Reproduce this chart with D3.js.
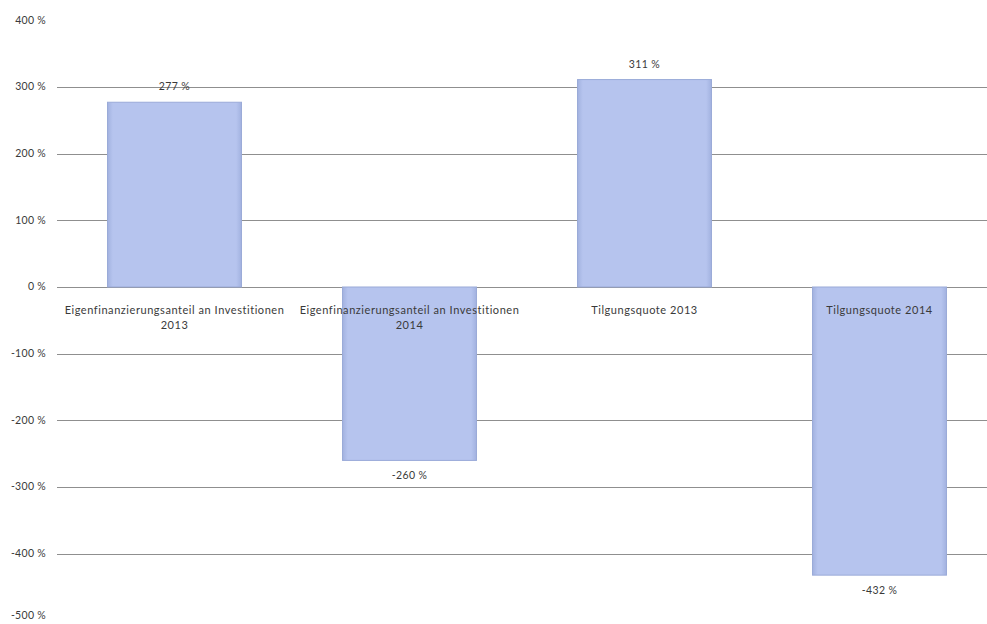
<!DOCTYPE html>
<html>
<head>
<meta charset="utf-8">
<script src="https://cdn.jsdelivr.net/npm/d3@7/dist/d3.min.js"></script>
<style>
  html, body { margin: 0; padding: 0; background: #fff; }
  svg { display: block; }
  text { font-family: Lato, "Open Sans", sans-serif; fill: #3a3a3a; }
</style>
</head>
<body>
<svg id="chart" width="987" height="624"></svg>
<script>
// Kennzahlen (in Prozent)
const categories = [
  ["Eigenfinanzierungsanteil an Investitionen", "2013"],
  ["Eigenfinanzierungsanteil an Investitionen", "2014"],
  ["Tilgungsquote 2013"],
  ["Tilgungsquote 2014"]
];
const values = [277, -260, 311, -432];
const tickValues = [400, 300, 200, 100, 0, -100, -200, -300, -400, -500];
const gridValues = [300, 200, 100, 0, -100, -200, -300, -400];

const svg = d3.select("#chart");
const keys = categories.map((c, i) => i);

const x = d3.scaleBand()
  .domain(keys)
  .range([57, 997])
  .paddingInner(0.43)
  .paddingOuter(0.215);

const y = d3.scaleLinear()
  .domain([-500, 400])
  .range([620.5, 20.2]);

const fmt = v => v + " %";

// Bar gradient: soft bevelled lavender blue
const defs = svg.append("defs");
const grad = defs.append("linearGradient").attr("id", "barFill")
  .attr("x1", "0%").attr("x2", "100%").attr("y1", "0%").attr("y2", "0%");
grad.append("stop").attr("offset", "0%").attr("stop-color", "#a2b2e0");
grad.append("stop").attr("offset", "4%").attr("stop-color", "#b6c4ee");
grad.append("stop").attr("offset", "96%").attr("stop-color", "#b6c4ee");
grad.append("stop").attr("offset", "100%").attr("stop-color", "#a2b2e0");

// Gridlines
svg.append("g")
  .selectAll("line")
  .data(gridValues)
  .join("line")
  .attr("x1", 57).attr("x2", 987)
  .attr("y1", d => Math.round(y(d)) + 0.5)
  .attr("y2", d => Math.round(y(d)) + 0.5)
  .attr("stroke", "#8f8f8f")
  .attr("stroke-width", 1);

// Y axis labels (bottom label kept inside the canvas)
const yAxis = d3.axisLeft(y).tickValues(tickValues).tickFormat(fmt).tickSize(0).tickPadding(0);
const gy = svg.append("g").attr("transform", "translate(46,0)").call(yAxis);
gy.select(".domain").remove();
gy.selectAll(".tick")
  .attr("transform", d => `translate(0,${Math.min(y(d), 616)})`);
gy.selectAll("text")
  .attr("font-size", 10.5)
  .attr("letter-spacing", 0.3)
  .attr("font-family", "Lato, sans-serif")
  .attr("fill", "#3a3a3a");

// Bars
svg.append("g")
  .selectAll("rect")
  .data(values)
  .join("rect")
  .attr("x", (d, i) => x(i))
  .attr("width", x.bandwidth())
  .attr("y", d => y(Math.max(0, d)))
  .attr("height", d => Math.abs(y(d) - y(0)))
  .attr("fill", "url(#barFill)")
  .attr("stroke", "#9aaad8")
  .attr("stroke-width", 1);

// Category labels
const cat = svg.append("g")
  .selectAll("text")
  .data(categories)
  .join("text")
  .attr("x", (d, i) => x(i) + x.bandwidth() / 2)
  .attr("y", 314)
  .attr("text-anchor", "middle")
  .attr("font-size", 11)
  .attr("letter-spacing", 0.55);
cat.selectAll("tspan")
  .data(d => d)
  .join("tspan")
  .attr("x", function() { return this.parentNode.getAttribute("x"); })
  .attr("dy", (d, j) => j === 0 ? 0 : 15)
  .text(d => d);

// Value labels
svg.append("g")
  .selectAll("text")
  .data(values)
  .join("text")
  .attr("x", (d, i) => x(i) + x.bandwidth() / 2)
  .attr("y", d => d >= 0 ? y(d) - 12 : y(d) + 19)
  .attr("text-anchor", "middle")
  .attr("font-size", 10.5)
  .attr("letter-spacing", 0.4)
  .text(fmt);
</script>
</body>
</html>
